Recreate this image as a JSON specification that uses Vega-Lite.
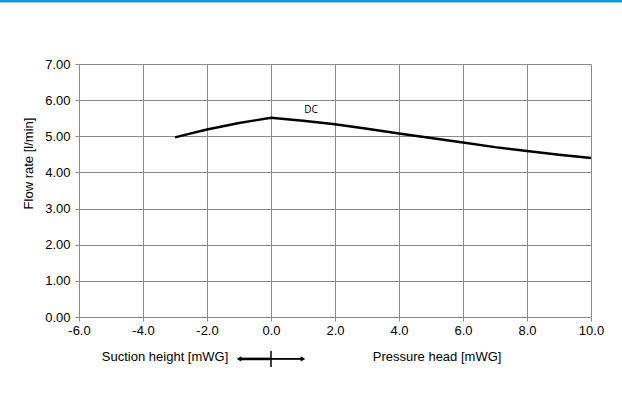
{
  "$schema": "https://vega.github.io/schema/vega-lite/v6.json",
  "width": 512,
  "height": 253,
  "autosize": {"type": "none"},
  "padding": {"left": 79, "top": 64, "right": 31, "bottom": 88},
  "background": "white",
  "config": {
    "view": {"stroke": null},
    "font": "Liberation Sans",
    "axis": {
      "labelFont": "Liberation Sans",
      "labelFontSize": 13,
      "labelColor": "#000000",
      "labelOverlap": false,
      "labelFlush": false,
      "titleFont": "Liberation Sans",
      "titleFontSize": 13,
      "titleFontWeight": "normal",
      "titleColor": "#000000",
      "gridColor": "#8a8a8a",
      "gridOpacity": 1,
      "gridWidth": 1,
      "domainColor": "#8a8a8a",
      "tickColor": "#8a8a8a",
      "tickSize": 4
    }
  },
  "datasets": {
    "curve": [
      {"x": -3, "y": 4.97},
      {"x": -2.5, "y": 5.08},
      {"x": -2, "y": 5.19},
      {"x": -1.5, "y": 5.28},
      {"x": -1, "y": 5.37},
      {"x": -0.5, "y": 5.44},
      {"x": 0, "y": 5.51},
      {"x": 1, "y": 5.43},
      {"x": 2, "y": 5.33},
      {"x": 3, "y": 5.21},
      {"x": 4, "y": 5.08},
      {"x": 5, "y": 4.95},
      {"x": 6, "y": 4.83},
      {"x": 7, "y": 4.7},
      {"x": 8, "y": 4.59},
      {"x": 9, "y": 4.49},
      {"x": 10, "y": 4.4}
    ],
    "label": [{"x": 1.25, "y": 5.73, "text": "DC"}],
    "xtitles": [
      {"x": -3.31, "y": -1.11, "text": "Suction height [mWG]"},
      {"x": 5.19, "y": -1.11, "text": "Pressure head [mWG]"}
    ],
    "arrowLeft": [{"x": -1.0, "x2": 0, "y": -1.16}],
    "arrowRight": [{"x": 0, "x2": 1.0, "y": -1.16}],
    "arrowTick": [{"x": 0, "y": -0.94, "y2": -1.38}],
    "arrowHeads": [
      {"x": -1.0, "y": -1.16, "dir": "left"},
      {"x": 1.0, "y": -1.16, "dir": "right"}
    ],
    "topBar": [{"x": -8.6, "x2": 11.1, "y": 8.74}]
  },
  "encoding": {
    "x": {
      "field": "x",
      "type": "quantitative",
      "scale": {"domain": [-6, 10], "nice": false, "zero": false},
      "axis": {
        "title": null,
        "values": [-6, -4, -2, 0, 2, 4, 6, 8, 10],
        "tickCount": 20,
        "labelExpr": "replace(format(datum.value, '.1f'), '\u2212', '-')",
        "labelPadding": 3,
        "grid": true
      }
    },
    "y": {
      "field": "y",
      "type": "quantitative",
      "scale": {"domain": [0, 7], "nice": false},
      "axis": {
        "title": "Flow rate [l/min]",
        "values": [0, 1, 2, 3, 4, 5, 6, 7],
        "tickCount": 20,
        "format": ".2f",
        "labelPadding": 5,
        "titlePadding": 9,
        "titleY": 99,
        "grid": true
      }
    }
  },
  "layer": [
    {
      "data": {"name": "curve"},
      "mark": {"type": "line", "color": "#000000", "strokeWidth": 2.5, "clip": false}
    },
    {
      "data": {"name": "label"},
      "mark": {"type": "text", "font": "Open Sans", "fontSize": 10, "color": "#000000", "clip": false},
      "encoding": {"text": {"field": "text"}}
    },
    {
      "data": {"name": "xtitles"},
      "mark": {"type": "text", "font": "Liberation Sans", "fontSize": 13, "color": "#000000", "baseline": "middle", "clip": false},
      "encoding": {"text": {"field": "text"}}
    },
    {
      "data": {"name": "arrowLeft"},
      "mark": {"type": "rule", "color": "#000000", "strokeWidth": 2.6, "clip": false},
      "encoding": {"x2": {"field": "x2"}}
    },
    {
      "data": {"name": "arrowRight"},
      "mark": {"type": "rule", "color": "#000000", "strokeWidth": 1.8, "clip": false},
      "encoding": {"x2": {"field": "x2"}}
    },
    {
      "data": {"name": "arrowTick"},
      "mark": {"type": "rule", "color": "#000000", "strokeWidth": 1.5, "clip": false},
      "encoding": {"y2": {"field": "y2"}}
    },
    {
      "data": {"name": "arrowHeads"},
      "mark": {"type": "point", "filled": true, "color": "#000000", "size": 28, "opacity": 1, "clip": false},
      "encoding": {
        "shape": {
          "field": "dir",
          "type": "nominal",
          "scale": {"domain": ["left", "right"], "range": ["triangle-left", "triangle-right"]},
          "legend": null
        }
      }
    },
    {
      "data": {"name": "topBar"},
      "mark": {"type": "rule", "color": "#009FDE", "strokeWidth": 2.6, "clip": false},
      "encoding": {"x2": {"field": "x2"}}
    }
  ]
}
